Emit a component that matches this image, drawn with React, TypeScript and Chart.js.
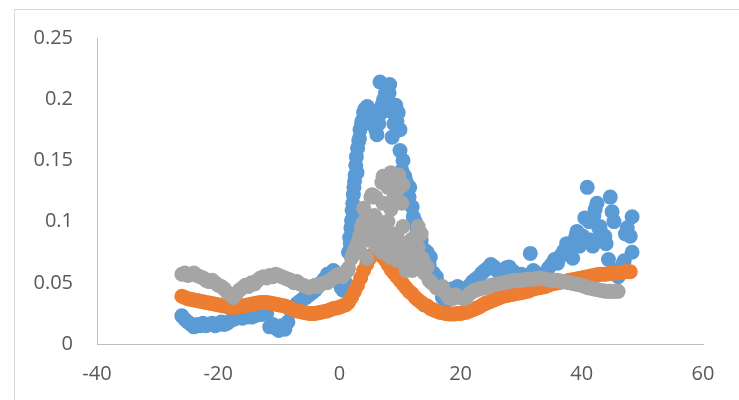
import React, { useEffect, useRef } from "react";
import { Chart, registerables } from "chart.js";

Chart.register(...registerables);

const xTicks = [-40, -20, 0, 20, 40, 60];
const yTicks = [0, 0.05, 0.1, 0.15, 0.2, 0.25];
const yTickLabels = ["0", "0.05", "0.1", "0.15", "0.2", "0.25"];

const blueX = [
  -26, -25.5, -25, -24.5, -24, -23.5, -23, -22.5, -22, -21.5, -21, -20.5, -20, -19.5, -19, -18.5, -18, -17.5, -17, -16.5,
  -16, -15.5, -15, -14.5, -14, -13.5, -13, -12.5, -12, -11.5, -11, -10.5, -10, -9.5, -9, -8.5, -8, -7.5, -7, -6.5,
  -6, -5.5, -5, -4.5, -4, -3.5, -3, -2.5, -2, -1.5, -1, -0.5, 0, 0.3, 0.6, 1, 1.3, 1.5, 1.7, 1.9,
  2.0, 2.1, 2.2, 2.3, 2.4, 2.5, 2.6, 2.7, 2.8, 3.0, 3.2, 3.4, 3.7, 4.0, 4.3, 4.6, 5.0, 5.3, 5.6, 6.0,
  6.2, 6.5, 6.7, 7.0, 7.3, 7.6, 8.0, 8.3, 8.6, 8.7, 9.0, 9.3, 9.7, 10.0, 10.0, 10.3, 10.8, 11.2, 11.6, 12.0,
  12.2, 12.5, 13.0, 13.5, 14.0, 14.5, 15.0, 15.5, 16.0, 16.5, 17.0, 17.5, 18.0, 18.5, 19.0, 19.5, 20.0, 20.5, 21.0, 21.5,
  22.0, 22.5, 23.0, 23.5, 24, 24.5, 25, 25.5, 26, 26.5, 27, 27.5, 28, 28.5, 29, 29.5, 30, 30.5, 31, 31.5,
  32, 32.5, 33, 33.5, 34, 34.5, 35, 35.5, 36, 36.5, 37, 37.5, 38, 38.5, 39, 39.2, 39.6, 40, 40.5, 40.9,
  41.2, 41.5, 41.8, 42.2, 42.5, 42.8, 43, 43.3, 43.6, 44, 44.4, 44.7, 45, 45.3, 45.6, 46, 46.5, 46.8, 47.2, 47.5,
  48, 48.3, 48.3,
  1.8, 2.2, 2.5, 2.9, 3.3, 3.6, 4.2, 4.8, 5.5, 5.8, 6.4, 7.2, 7.8, 8.2, 9.5, 10.5, 11.0, 11.5, 12.8, 13.3,
  14.2, 14.8, 16.2, 17.8, 40.2, 42.0, 43.8, 46.2, 47.0,
];
const blueY = [
  0.023, 0.020, 0.018, 0.016, 0.014, 0.016, 0.015, 0.017, 0.015, 0.016, 0.017, 0.015, 0.016, 0.018, 0.016, 0.017, 0.019, 0.020, 0.021, 0.022,
  0.021, 0.022, 0.023, 0.022, 0.023, 0.025, 0.024, 0.026, 0.025, 0.014, 0.016, 0.013, 0.011, 0.015, 0.012, 0.018, 0.027, 0.030, 0.033, 0.035,
  0.037, 0.038, 0.040, 0.042, 0.044, 0.047, 0.050, 0.053, 0.057, 0.055, 0.060, 0.058, 0.052, 0.046, 0.044, 0.050, 0.060, 0.075, 0.087, 0.095,
  0.101, 0.109, 0.115, 0.122, 0.128, 0.133, 0.138, 0.146, 0.153, 0.160, 0.166, 0.175, 0.182, 0.189, 0.185, 0.194, 0.190, 0.180, 0.185, 0.175,
  0.171, 0.180, 0.214, 0.195, 0.200, 0.205, 0.210, 0.212, 0.190, 0.169, 0.180, 0.195, 0.189, 0.175, 0.158, 0.142, 0.137, 0.130, 0.128, 0.112,
  0.104, 0.100, 0.092, 0.085, 0.077, 0.075, 0.071, 0.058, 0.055, 0.045, 0.038, 0.035, 0.040, 0.045, 0.043, 0.047, 0.045, 0.042, 0.040, 0.048,
  0.051, 0.053, 0.055, 0.058, 0.060, 0.062, 0.065, 0.063, 0.060, 0.058, 0.060, 0.062, 0.063, 0.060, 0.058, 0.056, 0.057, 0.055, 0.056, 0.074,
  0.060, 0.058, 0.056, 0.055, 0.058, 0.062, 0.065, 0.069, 0.066, 0.072, 0.076, 0.082, 0.078, 0.070, 0.088, 0.092, 0.080, 0.085, 0.103, 0.128,
  0.100, 0.085, 0.080, 0.110, 0.115, 0.095, 0.096, 0.090, 0.085, 0.082, 0.069, 0.120, 0.108, 0.100, 0.060, 0.055, 0.062, 0.066, 0.090, 0.095,
  0.088, 0.104, 0.075,
  0.082, 0.092, 0.108, 0.140, 0.168, 0.178, 0.192, 0.186, 0.190, 0.178, 0.185, 0.190, 0.198, 0.205, 0.182, 0.150, 0.133, 0.120, 0.095, 0.088,
  0.070, 0.065, 0.050, 0.038, 0.088, 0.105, 0.088, 0.058, 0.068,
];

const orangeX = [
  -26, -25.5, -25, -24.5, -24, -23.5, -23, -22.5, -22, -21.5, -21, -20.5, -20, -19.5, -19, -18.5, -18, -17.5, -17, -16.5,
  -16, -15.5, -15, -14.5, -14, -13.5, -13, -12.5, -12, -11.5, -11, -10.5, -10, -9.5, -9, -8.5, -8, -7.5, -7, -6.5,
  -6, -5.5, -5, -4.5, -4, -3.5, -3, -2.5, -2, -1.5, -1, -0.5, 0, 0.5, 1, 1.5, 2, 2.5, 3, 3.5,
  4, 4.5, 5, 5.5, 6, 6.5, 7, 7.5, 8, 8.5, 9, 9.5, 10, 10.5, 11, 11.5, 12, 12.5, 13, 13.5,
  14, 14.5, 15, 15.5, 16, 16.5, 17, 17.5, 18, 18.5, 19, 19.5, 20, 20.5, 21, 21.5, 22, 22.5, 23, 23.5,
  24, 24.5, 25, 25.5, 26, 26.5, 27, 27.5, 28, 28.5, 29, 29.5, 30, 30.5, 31, 31.5, 32, 32.5, 33, 33.5,
  34, 34.5, 35, 35.5, 36, 36.5, 37, 37.5, 38, 38.5, 39, 39.5, 40, 40.5, 41, 41.5, 42, 42.5, 43, 43.5,
  44, 44.5, 45, 45.5, 46, 46.5, 47, 47.5, 48,
];
const orangeY = [
  0.039, 0.038, 0.037, 0.0365, 0.036, 0.0355, 0.035, 0.0345, 0.034, 0.0335, 0.033, 0.0325, 0.032, 0.0315, 0.031, 0.0305, 0.030, 0.030, 0.030, 0.0305,
  0.031, 0.0315, 0.032, 0.0325, 0.033, 0.0335, 0.034, 0.034, 0.034, 0.0335, 0.033, 0.0325, 0.032, 0.0315, 0.031, 0.030, 0.029, 0.028, 0.027, 0.0265,
  0.026, 0.0255, 0.025, 0.025, 0.025, 0.0255, 0.026, 0.0265, 0.027, 0.028, 0.029, 0.0295, 0.030, 0.031, 0.032, 0.034, 0.038, 0.043, 0.048, 0.054,
  0.060, 0.065, 0.070, 0.073, 0.075, 0.075, 0.072, 0.069, 0.065, 0.061, 0.058, 0.055, 0.052, 0.049, 0.046, 0.043, 0.041, 0.038, 0.036, 0.034,
  0.032, 0.031, 0.029, 0.028, 0.027, 0.026, 0.0255, 0.025, 0.0245, 0.0245, 0.0245, 0.025, 0.025, 0.0255, 0.026, 0.027, 0.028, 0.029, 0.030, 0.0315,
  0.033, 0.034, 0.035, 0.036, 0.037, 0.038, 0.039, 0.0395, 0.040, 0.0405, 0.041, 0.0415, 0.042, 0.0425, 0.043, 0.044, 0.045, 0.0455, 0.046, 0.0465,
  0.047, 0.048, 0.049, 0.0495, 0.050, 0.0505, 0.051, 0.0515, 0.052, 0.0525, 0.053, 0.0535, 0.054, 0.0545, 0.055, 0.0555, 0.056, 0.0565, 0.057, 0.057,
  0.057, 0.0575, 0.058, 0.058, 0.058, 0.0585, 0.059, 0.059, 0.059,
];

const grayX = [
  -26, -25.5, -25, -24.5, -24, -23.5, -23, -22.5, -22, -21.5, -21, -20.5, -20, -19.5, -19, -18.5, -18, -17.5, -17, -16.5,
  -16, -15.5, -15, -14.5, -14, -13.5, -13, -12.5, -12, -11.5, -11, -10.5, -10, -9.5, -9, -8.5, -8, -7.5, -7, -6.5,
  -6, -5.5, -5, -4.5, -4, -3.5, -3, -2.5, -2, -1.5, -1, -0.5, 0, 0.5, 1, 1.5, 2, 2.3, 2.6, 3,
  3.3, 3.6, 3.9, 4.0, 4.3, 4.6, 5.0, 5.2, 5.4, 5.8, 6.0, 6.3, 6.6, 7.0, 7.2, 7.2, 7.5, 7.8, 8.0, 8.3,
  8.5, 8.7, 9.0, 9.0, 9.3, 9.6, 9.8, 10.0, 10.3, 10.5, 10.8, 11.2, 11.5, 12.0, 12.5, 13.0, 13.0, 13.3, 13.7, 14.0,
  14.5, 14.8, 15.2, 16.0, 16.5, 17.0, 17.5, 18.0, 18.6, 19.2, 19.8, 20.5, 21.0, 21.5, 22.0, 22.5, 23, 24, 25, 26,
  27, 28, 29, 30, 31, 32, 33, 34, 35, 36, 37, 38, 39, 40, 41, 42, 43, 44, 45, 46,
  3.5, 4.5, 4.5, 5.5, 6.0, 6.0, 6.5, 7.0, 8.0, 8.0, 8.5, 9.5, 9.5, 10.0, 10.5, 11.0, 11.8, 12.0, 12.5, 13.5,
  14.0, 23.5, 24.5, 25.5, 26.5, 27.5, 28.5, 29.5, 30.5, 31.5, 32.5, 33.5, 34.5, 35.5, 36.5, 37.5, 38.5, 39.5, 40.5, 41.5,
  42.5, 43.5, 44.5, 45.5,
];
const grayY = [
  0.057, 0.058, 0.056, 0.057, 0.058, 0.056, 0.055, 0.054, 0.052, 0.051, 0.052, 0.050, 0.048, 0.047, 0.045, 0.042, 0.040, 0.038, 0.041, 0.044,
  0.046, 0.048, 0.047, 0.050, 0.049, 0.052, 0.054, 0.055, 0.054, 0.056, 0.055, 0.057, 0.056, 0.055, 0.054, 0.053, 0.052, 0.050, 0.051, 0.049,
  0.048, 0.047, 0.046, 0.047, 0.048, 0.047, 0.049, 0.050, 0.050, 0.052, 0.054, 0.056, 0.057, 0.055, 0.058, 0.062, 0.070, 0.074, 0.078, 0.082,
  0.088, 0.095, 0.099, 0.111, 0.090, 0.085, 0.099, 0.120, 0.122, 0.105, 0.090, 0.095, 0.100, 0.132, 0.137, 0.115, 0.085, 0.093, 0.078, 0.071,
  0.140, 0.130, 0.120, 0.079, 0.085, 0.068, 0.138, 0.133, 0.115, 0.096, 0.082, 0.069, 0.078, 0.060, 0.088, 0.096, 0.079, 0.066, 0.070, 0.066,
  0.063, 0.052, 0.050, 0.046, 0.045, 0.047, 0.042, 0.038, 0.037, 0.040, 0.038, 0.037, 0.038, 0.041, 0.043, 0.044, 0.045, 0.046, 0.048, 0.049,
  0.050, 0.051, 0.052, 0.052, 0.053, 0.053, 0.054, 0.053, 0.052, 0.052, 0.051, 0.050, 0.049, 0.048, 0.046, 0.045, 0.044, 0.043, 0.043, 0.043,
  0.075, 0.070, 0.105, 0.090, 0.080, 0.120, 0.085, 0.075, 0.100, 0.128, 0.110, 0.090, 0.125, 0.075, 0.130, 0.060, 0.085, 0.075, 0.065, 0.090,
  0.058, 0.0455, 0.047, 0.0485, 0.0495, 0.0505, 0.0515, 0.052, 0.0525, 0.053, 0.0535, 0.0535, 0.0525, 0.052, 0.0515, 0.0505, 0.0495, 0.0485, 0.047, 0.0455,
  0.0445, 0.0435, 0.043, 0.043,
];

const toPoints = (xs: number[], ys: number[]) => xs.map((x, i) => ({ x, y: ys[i] }));

const tickFont = { family: "'Open Sans', 'Liberation Sans', sans-serif", size: 20 };
const tickColor = "#595959";
const axisColor = "#BFBFBF";

export default function App() {
  const canvasRef = useRef<HTMLCanvasElement | null>(null);

  useEffect(() => {
    const canvas = canvasRef.current;
    if (!canvas) return;
    const mk = (data: { x: number; y: number }[], color: string, order: number) => ({
      data,
      showLine: false,
      backgroundColor: color,
      borderColor: color,
      borderWidth: 0,
      pointRadius: 7.5,
      pointHoverRadius: 7.5,
      order,
    });
    const chart = new Chart(canvas, {
      type: "scatter",
      data: {
        datasets: [
          mk(toPoints(blueX, blueY), "#5B9BD5", 3),
          mk(toPoints(orangeX, orangeY), "#ED7D31", 2),
          mk(toPoints(grayX, grayY), "#A5A5A5", 1),
        ],
      },
      options: {
        responsive: false,
        animation: false,
        events: [],
        layout: { padding: { top: 38, right: 36, left: 0, bottom: 0 } },
        plugins: { legend: { display: false }, tooltip: { enabled: false } },
        scales: {
          x: {
            type: "linear",
            min: -40,
            max: 60,
            afterBuildTicks: (s: any) => {
              s.ticks = xTicks.map((v) => ({ value: v }));
            },
            afterFit: (s: any) => {
              s.height = 56;
            },
            grid: { display: false, drawTicks: false },
            border: { display: true, color: axisColor, width: 1 },
            ticks: {
              padding: 18,
              font: tickFont,
              color: tickColor,
              maxRotation: 0,
              callback: (v: any) => String(v),
            },
          },
          y: {
            type: "linear",
            min: 0,
            max: 0.25,
            afterBuildTicks: (s: any) => {
              s.ticks = yTicks.map((v) => ({ value: v }));
            },
            afterFit: (s: any) => {
              s.width = 97;
            },
            grid: { display: false, drawTicks: false },
            border: { display: true, color: axisColor, width: 1 },
            ticks: {
              padding: 24,
              font: tickFont,
              color: tickColor,
              callback: (v: any) => {
                const i = yTicks.findIndex((t) => Math.abs(t - Number(v)) < 1e-9);
                return i >= 0 ? yTickLabels[i] : "";
              },
            },
          },
        },
      },
    } as any);
    return () => chart.destroy();
  }, []);

  return (
    <div style={{ position: "fixed", left: 0, top: 0, width: 739, height: 400, overflow: "hidden", background: "#fff" }}>
      <canvas ref={canvasRef} width={739} height={400} style={{ position: "absolute", left: 0, top: 0, width: 739, height: 400 }} />
      <div
        style={{
          position: "absolute",
          left: 14,
          top: 9,
          width: 900,
          height: 600,
          border: "1px solid #D9D9D9",
          pointerEvents: "none",
        }}
      />
    </div>
  );
}
